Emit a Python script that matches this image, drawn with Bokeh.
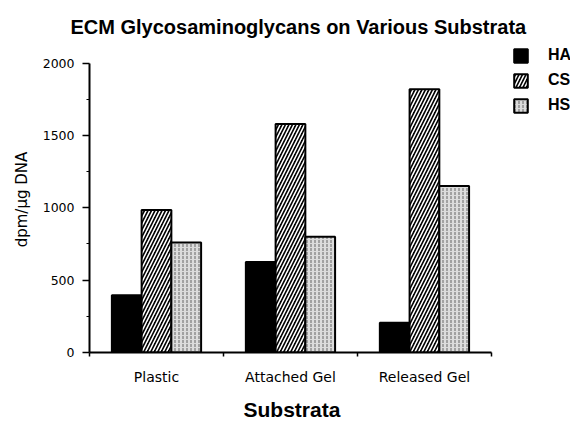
from bokeh.plotting import figure
from bokeh.models import ColumnDataSource, FixedTicker, Range1d, Legend, LegendItem, Title
from bokeh.embed import file_html
from bokeh.resources import INLINE

categories = ["Plastic", "Attached Gel", "Released Gel"]
series = ["HA", "CS", "HS"]
ha = [395, 625, 205]
cs = [985, 1580, 1820]
hs = [760, 800, 1150]
y_ticks = [0, 500, 1000, 1500, 2000]
y_minor = [250, 750, 1250, 1750]

FONT = "Liberation Sans"
TICKFONT = "DejaVu Sans"

p = figure(width=570, height=429, output_backend="svg", toolbar_location=None,
           x_range=Range1d(0, 3.59), y_range=Range1d(0, 2115),
           min_border_left=89, min_border_right=0, min_border_top=46, min_border_bottom=71)
p.grid.visible = False
p.outline_line_color = None
p.background_fill_color = "white"
p.border_fill_color = "white"

centers = [i + 0.5 for i in range(len(categories))]
bw = 0.222
styles = [
    dict(fill_color="black"),
    dict(fill_color="black", hatch_pattern="/", hatch_color="white", hatch_scale=7, hatch_weight=1.6),
    dict(fill_color="#dcdcdc", hatch_pattern=":", hatch_color="#666666", hatch_scale=4, hatch_weight=1),
]
items = []
for k, (name, vals) in enumerate(zip(series, [ha, cs, hs])):
    src = ColumnDataSource(dict(x=[c + (k - 1) * bw for c in centers], top=vals))
    r = p.vbar(x="x", top="top", bottom=0, width=bw, source=src,
               line_color="black", line_width=2, **styles[k])
    items.append(LegendItem(label=name, renderers=[r]))

legend = Legend(items=items, location=(423, 238), border_line_color=None,
                background_fill_alpha=0, label_text_font=FONT,
                label_text_font_style="bold", label_text_color="black",
                label_text_font_size="16px", glyph_width=17, glyph_height=17,
                label_height=17, spacing=7, padding=0, margin=0, label_standoff=19)
p.add_layout(legend)

p.title.text = "ECM Glycosaminoglycans on Various Substrata"
p.title.align = "left"
p.title.text_font = FONT
p.title.text_font_size = "20px"
p.title.text_font_style = "bold"
p.title.text_color = "black"
p.title.offset = -19
p.title.standoff = 18

xa = p.xaxis[0]
xa.bounds = (0, 3)
xa.ticker = FixedTicker(ticks=centers, minor_ticks=[0, 1, 2, 3])
xa.major_label_overrides = {c: lab for c, lab in zip(centers, categories)}
xa.major_tick_line_color = None
xa.major_tick_out = 0
xa.major_tick_in = 0
xa.minor_tick_out = 4
xa.minor_tick_in = 0
xa.axis_line_width = 2
xa.minor_tick_line_width = 1.5
xa.major_label_text_font = TICKFONT
xa.major_label_text_font_size = "14px"
xa.major_label_text_color = "black"
xa.major_label_standoff = 12

xlabel = Title(text="Substrata", align="left", offset=154, standoff=17,
               text_font=FONT, text_font_style="bold", text_font_size="21px",
               text_color="black")
p.add_layout(xlabel, "below")

ya = p.yaxis[0]
ya.bounds = (0, 2000)
ya.ticker = FixedTicker(ticks=y_ticks, minor_ticks=y_minor)
ya.major_tick_out = 7
ya.major_tick_in = 0
ya.minor_tick_out = 3
ya.minor_tick_in = 0
ya.axis_line_width = 2
ya.major_tick_line_width = 1.5
ya.major_label_text_font = TICKFONT
ya.major_label_text_font_size = "12.5px"
ya.major_label_text_color = "black"
ya.major_label_standoff = 8
ya.axis_label = "dpm/µg DNA"
ya.axis_label_text_font = TICKFONT
ya.axis_label_text_font_style = "normal"
ya.axis_label_text_font_size = "15px"
ya.axis_label_text_color = "black"
ya.axis_label_standoff = 9

open("out.html", "w").write(file_html(p, INLINE))
